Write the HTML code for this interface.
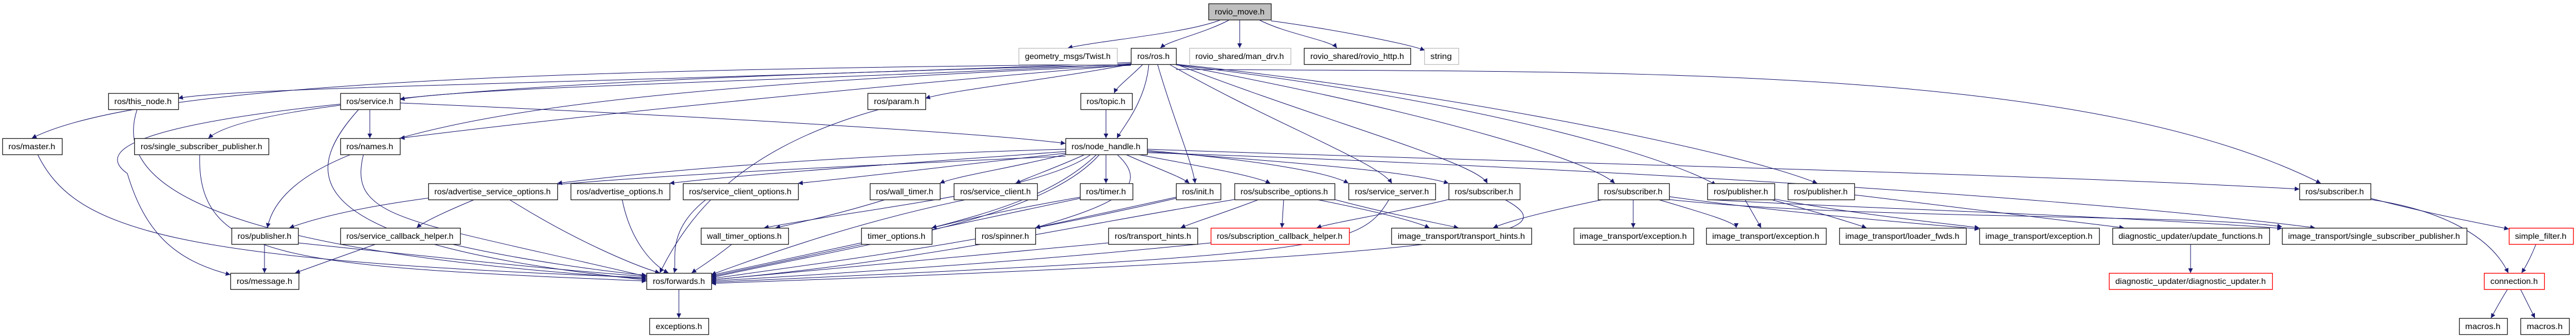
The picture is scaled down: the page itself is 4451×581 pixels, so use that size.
<!DOCTYPE html>
<html><head><meta charset="utf-8"><style>
html,body{margin:0;padding:0;background:#fff;}
svg{display:block;}
text{font-family:"Liberation Sans",sans-serif;font-size:14px;fill:#000;}
rect{fill:#fff;stroke:#222;stroke-width:1.3;}
.g{stroke:#bfbfbf;}
.r{stroke:#ff0000;}
.e path{fill:none;stroke:#191970;stroke-width:1;}
</style></head><body>
<svg width="4451" height="581" viewBox="0 0 4451 581" xmlns="http://www.w3.org/2000/svg">
<defs><marker id="a" viewBox="0 0 10 10" refX="10" refY="5" markerWidth="10" markerHeight="8" markerUnits="userSpaceOnUse" orient="auto"><path d="M0,0 L10,5 L0,10z" fill="#191970"/></marker></defs>
<g class="e">
<path marker-end="url(#a)" d="M2110 34 C2050 58,1900 70,1845 83"/>
<path marker-end="url(#a)" d="M2125 34 C2080 58,2020 70,2005 83"/>
<path marker-end="url(#a)" d="M2142 34 L2142 83"/>
<path marker-end="url(#a)" d="M2175 34 C2220 58,2300 70,2310 83"/>
<path marker-end="url(#a)" d="M2196 36 C2300 50,2430 75,2462 87"/>
<path marker-end="url(#a)" d="M1954 111 C1000 120,250 140,55 239"/>
<path marker-end="url(#a)" d="M1954 108 C1200 140,400 150,308 170"/>
<path marker-end="url(#a)" d="M1954 110 C1400 140,800 150,691 172"/>
<path marker-end="url(#a)" d="M1954 111 C1800 140,1650 155,1599 170"/>
<path marker-end="url(#a)" d="M1975 111 C1950 136,1930 150,1925 161"/>
<path marker-end="url(#a)" d="M1985 111 C1980 175,1940 220,1930 239"/>
<path marker-end="url(#a)" d="M1954 112 C1200 130,450 160,360 239"/>
<path marker-end="url(#a)" d="M1954 112 C1500 150,1000 200,691 239"/>
<path marker-end="url(#a)" d="M1954 113 C1100 150,500 200,462 394"/>
<path marker-end="url(#a)" d="M2000 111 C2030 214,2060 280,2065 317"/>
<path marker-end="url(#a)" d="M2020 111 C2200 214,2380 280,2405 317"/>
<path marker-end="url(#a)" d="M2032 111 C2300 214,2550 280,2570 317"/>
<path marker-end="url(#a)" d="M2032 112 C2500 200,2750 280,2790 317"/>
<path marker-end="url(#a)" d="M2032 112 C2600 180,2900 280,2965 320"/>
<path marker-end="url(#a)" d="M2032 111 C2500 160,3000 260,3140 317"/>
<path marker-end="url(#a)" d="M2032 120 C2800 125,3600 110,4010 317"/>
<path marker-end="url(#a)" d="M639 189 L639 239"/>
<path marker-end="url(#a)" d="M691 178 C1200 200,1700 230,1841 248"/>
<path marker-end="url(#a)" d="M620 189 C520 300,500 420,1117 484"/>
<path marker-end="url(#a)" d="M588 180 C300 210,150 250,220 300 C250 400,300 450,398 475"/>
<path marker-end="url(#a)" d="M237 189 C200 300,300 430,1117 482"/>
<path marker-end="url(#a)" d="M65 267 C130 400,300 450,1117 480"/>
<path marker-end="url(#a)" d="M345 267 C340 450,500 460,1117 486"/>
<path marker-end="url(#a)" d="M628 267 C600 380,700 380,1117 478"/>
<path marker-end="url(#a)" d="M1520 189 C1300 250,1200 350,1140 472"/>
<path marker-end="url(#a)" d="M1911 189 L1911 239"/>
<path marker-end="url(#a)" d="M1841 258 C1400 270,1100 300,963 317"/>
<path marker-end="url(#a)" d="M1841 262 C1600 280,1300 300,1157 317"/>
<path marker-end="url(#a)" d="M1841 265 C1700 280,1500 305,1379 317"/>
<path marker-end="url(#a)" d="M1841 267 C1750 290,1650 305,1624 317"/>
<path marker-end="url(#a)" d="M1875 267 C1820 292,1780 305,1755 317"/>
<path marker-end="url(#a)" d="M1911 267 L1911 317"/>
<path marker-end="url(#a)" d="M1945 267 C2000 292,2040 305,2055 317"/>
<path marker-end="url(#a)" d="M1965 267 C2100 292,2170 305,2195 317"/>
<path marker-end="url(#a)" d="M1982 260 C2200 280,2300 300,2330 317"/>
<path marker-end="url(#a)" d="M1982 262 C2300 285,2450 300,2503 317"/>
<path marker-end="url(#a)" d="M1982 258 C2600 280,3500 300,3973 327"/>
<path marker-end="url(#a)" d="M1841 270 C1200 300,700 320,500 394"/>
<path marker-end="url(#a)" d="M1900 267 C1800 380,1500 420,1229 480"/>
<path marker-end="url(#a)" d="M1885 267 C1800 330,1500 360,1320 394"/>
<path marker-end="url(#a)" d="M1895 267 C1820 340,1700 370,1610 394"/>
<path marker-end="url(#a)" d="M1930 267 C2000 330,1900 360,1789 394"/>
<path marker-end="url(#a)" d="M820 345 C760 370,730 385,720 394"/>
<path marker-end="url(#a)" d="M880 345 C1000 420,1100 460,1140 472"/>
<path marker-end="url(#a)" d="M1075 345 C1090 420,1130 460,1155 472"/>
<path marker-end="url(#a)" d="M1220 345 C1150 400,1170 450,1165 472"/>
<path marker-end="url(#a)" d="M1530 345 C1450 370,1380 385,1340 394"/>
<path marker-end="url(#a)" d="M1670 345 C1500 380,1350 430,1229 475"/>
<path marker-end="url(#a)" d="M1866 341 C1700 370,1650 385,1610 394"/>
<path marker-end="url(#a)" d="M1866 343 C1600 400,1400 440,1229 478"/>
<path marker-end="url(#a)" d="M2032 341 C1900 370,1830 385,1789 394"/>
<path marker-end="url(#a)" d="M2032 343 C1700 420,1450 450,1229 482"/>
<path marker-end="url(#a)" d="M2175 345 C2110 370,2060 385,2040 394"/>
<path marker-end="url(#a)" d="M2218 345 L2215 394"/>
<path marker-end="url(#a)" d="M2133 345 C1800 400,1600 450,1229 484"/>
<path marker-end="url(#a)" d="M2275 345 C2400 370,2450 385,2470 394"/>
<path marker-end="url(#a)" d="M2400 345 C2350 430,2300 440,1229 488"/>
<path marker-end="url(#a)" d="M2503 345 C2400 370,2300 385,2275 394"/>
<path marker-end="url(#a)" d="M2600 345 C2700 400,2650 440,1229 490"/>
<path marker-end="url(#a)" d="M2770 345 C2650 370,2600 385,2580 394"/>
<path marker-end="url(#a)" d="M2822 345 L2822 394"/>
<path marker-end="url(#a)" d="M2865 345 C2950 370,3000 385,3000 394"/>
<path marker-end="url(#a)" d="M2884 340 C3100 370,3300 385,3420 396"/>
<path marker-end="url(#a)" d="M2884 345 C3200 380,3800 370,3943 392"/>
<path marker-end="url(#a)" d="M3015 345 L3043 394"/>
<path marker-end="url(#a)" d="M3060 345 C3150 370,3200 385,3225 394"/>
<path marker-end="url(#a)" d="M3060 343 C3200 370,3350 385,3420 394"/>
<path marker-end="url(#a)" d="M2950 345 C3200 360,3600 370,3943 395"/>
<path marker-end="url(#a)" d="M3204 337 C3400 360,3600 385,3670 394"/>
<path marker-end="url(#a)" d="M2306 345 C2400 370,2480 385,2520 394"/>
<path marker-end="url(#a)" d="M1982 264 C2500 280,3500 330,4000 394"/>
<path marker-end="url(#a)" d="M457 422 L457 472"/>
<path marker-end="url(#a)" d="M515 420 C800 450,1000 470,1117 478"/>
<path marker-end="url(#a)" d="M650 422 C570 450,530 465,510 472"/>
<path marker-end="url(#a)" d="M780 422 C900 450,1050 470,1117 476"/>
<path marker-end="url(#a)" d="M1265 422 C1230 450,1205 465,1195 472"/>
<path marker-end="url(#a)" d="M1488 420 C1350 450,1280 465,1229 476"/>
<path marker-end="url(#a)" d="M1915 420 C1600 450,1400 470,1229 484"/>
<path marker-end="url(#a)" d="M2092 420 C1800 450,1500 470,1229 486"/>
<path marker-end="url(#a)" d="M1173 500 L1173 550"/>
<path marker-end="url(#a)" d="M3785 422 L3785 472"/>
<path marker-end="url(#a)" d="M4096 345 C4200 360,4300 400,4334 472"/>
<path marker-end="url(#a)" d="M4096 343 C4200 370,4280 385,4335 396"/>
<path marker-end="url(#a)" d="M4382 422 C4375 440,4365 460,4357 472"/>
<path marker-end="url(#a)" d="M4333 500 C4320 520,4310 540,4304 550"/>
<path marker-end="url(#a)" d="M4355 500 C4365 520,4375 540,4380 550"/>
</g>
<g>
<rect x="2088.5" y="6.5" width="108" height="28" style="fill:#bfbfbf"/><text x="2142" y="25" text-anchor="middle" textLength="86" lengthAdjust="spacingAndGlyphs">rovio_move.h</text>
<rect class="g" x="1760.5" y="83.5" width="170" height="28"/><text x="1845" y="102" text-anchor="middle" textLength="148" lengthAdjust="spacingAndGlyphs">geometry_msgs/Twist.h</text>
<rect x="1954.5" y="83.5" width="78" height="28"/><text x="1993" y="102" text-anchor="middle" textLength="56" lengthAdjust="spacingAndGlyphs">ros/ros.h</text>
<rect class="g" x="2055.5" y="83.5" width="175" height="28"/><text x="2142" y="102" text-anchor="middle" textLength="153" lengthAdjust="spacingAndGlyphs">rovio_shared/man_drv.h</text>
<rect x="2253.5" y="83.5" width="184" height="28"/><text x="2345" y="102" text-anchor="middle" textLength="162" lengthAdjust="spacingAndGlyphs">rovio_shared/rovio_http.h</text>
<rect class="g" x="2461.5" y="83.5" width="59" height="28"/><text x="2490" y="102" text-anchor="middle" textLength="37" lengthAdjust="spacingAndGlyphs">string</text>
<rect x="187.5" y="161.5" width="121" height="28"/><text x="247" y="180" text-anchor="middle" textLength="99" lengthAdjust="spacingAndGlyphs">ros/this_node.h</text>
<rect x="588.5" y="161.5" width="103" height="28"/><text x="639" y="180" text-anchor="middle" textLength="81" lengthAdjust="spacingAndGlyphs">ros/service.h</text>
<rect x="1499.5" y="161.5" width="100" height="28"/><text x="1549" y="180" text-anchor="middle" textLength="78" lengthAdjust="spacingAndGlyphs">ros/param.h</text>
<rect x="1867.5" y="161.5" width="89" height="28"/><text x="1911" y="180" text-anchor="middle" textLength="67" lengthAdjust="spacingAndGlyphs">ros/topic.h</text>
<rect x="4.5" y="239.5" width="103" height="28"/><text x="55" y="258" text-anchor="middle" textLength="81" lengthAdjust="spacingAndGlyphs">ros/master.h</text>
<rect x="232.5" y="239.5" width="232" height="28"/><text x="348" y="258" text-anchor="middle" textLength="210" lengthAdjust="spacingAndGlyphs">ros/single_subscriber_publisher.h</text>
<rect x="588.5" y="239.5" width="103" height="28"/><text x="639" y="258" text-anchor="middle" textLength="81" lengthAdjust="spacingAndGlyphs">ros/names.h</text>
<rect x="1841.5" y="239.5" width="141" height="28"/><text x="1911" y="258" text-anchor="middle" textLength="119" lengthAdjust="spacingAndGlyphs">ros/node_handle.h</text>
<rect x="740.5" y="317.5" width="223" height="28"/><text x="851" y="336" text-anchor="middle" textLength="201" lengthAdjust="spacingAndGlyphs">ros/advertise_service_options.h</text>
<rect x="986.5" y="317.5" width="171" height="28"/><text x="1071" y="336" text-anchor="middle" textLength="149" lengthAdjust="spacingAndGlyphs">ros/advertise_options.h</text>
<rect x="1180.5" y="317.5" width="199" height="28"/><text x="1279" y="336" text-anchor="middle" textLength="177" lengthAdjust="spacingAndGlyphs">ros/service_client_options.h</text>
<rect x="1503.5" y="317.5" width="121" height="28"/><text x="1563" y="336" text-anchor="middle" textLength="99" lengthAdjust="spacingAndGlyphs">ros/wall_timer.h</text>
<rect x="1648.5" y="317.5" width="144" height="28"/><text x="1720" y="336" text-anchor="middle" textLength="122" lengthAdjust="spacingAndGlyphs">ros/service_client.h</text>
<rect x="1866.5" y="317.5" width="91" height="28"/><text x="1911" y="336" text-anchor="middle" textLength="69" lengthAdjust="spacingAndGlyphs">ros/timer.h</text>
<rect x="2032.5" y="317.5" width="77" height="28"/><text x="2070" y="336" text-anchor="middle" textLength="55" lengthAdjust="spacingAndGlyphs">ros/init.h</text>
<rect x="2133.5" y="317.5" width="173" height="28"/><text x="2219" y="336" text-anchor="middle" textLength="151" lengthAdjust="spacingAndGlyphs">ros/subscribe_options.h</text>
<rect x="2330.5" y="317.5" width="150" height="28"/><text x="2405" y="336" text-anchor="middle" textLength="128" lengthAdjust="spacingAndGlyphs">ros/service_server.h</text>
<rect x="2503.5" y="317.5" width="123" height="28"/><text x="2564" y="336" text-anchor="middle" textLength="101" lengthAdjust="spacingAndGlyphs">ros/subscriber.h</text>
<rect x="2761.5" y="317.5" width="123" height="28"/><text x="2822" y="336" text-anchor="middle" textLength="101" lengthAdjust="spacingAndGlyphs">ros/subscriber.h</text>
<rect x="2950.5" y="317.5" width="116" height="28"/><text x="3008" y="336" text-anchor="middle" textLength="94" lengthAdjust="spacingAndGlyphs">ros/publisher.h</text>
<rect x="3089.5" y="317.5" width="115" height="28"/><text x="3146" y="336" text-anchor="middle" textLength="93" lengthAdjust="spacingAndGlyphs">ros/publisher.h</text>
<rect x="3973.5" y="317.5" width="123" height="28"/><text x="4034" y="336" text-anchor="middle" textLength="101" lengthAdjust="spacingAndGlyphs">ros/subscriber.h</text>
<rect x="400.5" y="394.5" width="115" height="28"/><text x="457" y="413" text-anchor="middle" textLength="93" lengthAdjust="spacingAndGlyphs">ros/publisher.h</text>
<rect x="588.5" y="394.5" width="207" height="28"/><text x="691" y="413" text-anchor="middle" textLength="185" lengthAdjust="spacingAndGlyphs">ros/service_callback_helper.h</text>
<rect x="1211.5" y="394.5" width="151" height="28"/><text x="1286" y="413" text-anchor="middle" textLength="129" lengthAdjust="spacingAndGlyphs">wall_timer_options.h</text>
<rect x="1488.5" y="394.5" width="122" height="28"/><text x="1549" y="413" text-anchor="middle" textLength="100" lengthAdjust="spacingAndGlyphs">timer_options.h</text>
<rect x="1685.5" y="394.5" width="104" height="28"/><text x="1737" y="413" text-anchor="middle" textLength="82" lengthAdjust="spacingAndGlyphs">ros/spinner.h</text>
<rect x="1915.5" y="394.5" width="154" height="28"/><text x="1992" y="413" text-anchor="middle" textLength="132" lengthAdjust="spacingAndGlyphs">ros/transport_hints.h</text>
<rect class="r" x="2092.5" y="394.5" width="239" height="28"/><text x="2211" y="413" text-anchor="middle" textLength="217" lengthAdjust="spacingAndGlyphs">ros/subscription_callback_helper.h</text>
<rect x="2404.5" y="394.5" width="242" height="28"/><text x="2525" y="413" text-anchor="middle" textLength="220" lengthAdjust="spacingAndGlyphs">image_transport/transport_hints.h</text>
<rect x="2719.5" y="394.5" width="207" height="28"/><text x="2822" y="413" text-anchor="middle" textLength="185" lengthAdjust="spacingAndGlyphs">image_transport/exception.h</text>
<rect x="2948.5" y="394.5" width="207" height="28"/><text x="3051" y="413" text-anchor="middle" textLength="185" lengthAdjust="spacingAndGlyphs">image_transport/exception.h</text>
<rect x="3178.5" y="394.5" width="219" height="28"/><text x="3287" y="413" text-anchor="middle" textLength="197" lengthAdjust="spacingAndGlyphs">image_transport/loader_fwds.h</text>
<rect x="3420.5" y="394.5" width="207" height="28"/><text x="3523" y="413" text-anchor="middle" textLength="185" lengthAdjust="spacingAndGlyphs">image_transport/exception.h</text>
<rect x="3650.5" y="394.5" width="271" height="28"/><text x="3785" y="413" text-anchor="middle" textLength="249" lengthAdjust="spacingAndGlyphs">diagnostic_updater/update_functions.h</text>
<rect x="3943.5" y="394.5" width="319" height="28"/><text x="4102" y="413" text-anchor="middle" textLength="297" lengthAdjust="spacingAndGlyphs">image_transport/single_subscriber_publisher.h</text>
<rect class="r" x="4335.5" y="394.5" width="111" height="28"/><text x="4390" y="413" text-anchor="middle" textLength="89" lengthAdjust="spacingAndGlyphs">simple_filter.h</text>
<rect x="398.5" y="472.5" width="118" height="28"/><text x="457" y="491" text-anchor="middle" textLength="96" lengthAdjust="spacingAndGlyphs">ros/message.h</text>
<rect x="1117.5" y="472.5" width="112" height="28"/><text x="1173" y="491" text-anchor="middle" textLength="90" lengthAdjust="spacingAndGlyphs">ros/forwards.h</text>
<rect class="r" x="3644.5" y="472.5" width="282" height="28"/><text x="3785" y="491" text-anchor="middle" textLength="260" lengthAdjust="spacingAndGlyphs">diagnostic_updater/diagnostic_updater.h</text>
<rect class="r" x="4292.5" y="472.5" width="104" height="28"/><text x="4344" y="491" text-anchor="middle" textLength="82" lengthAdjust="spacingAndGlyphs">connection.h</text>
<rect x="1122.5" y="550.5" width="102" height="28"/><text x="1173" y="569" text-anchor="middle" textLength="80" lengthAdjust="spacingAndGlyphs">exceptions.h</text>
<rect x="4249.5" y="550.5" width="83" height="28"/><text x="4290" y="569" text-anchor="middle" textLength="61" lengthAdjust="spacingAndGlyphs">macros.h</text>
<rect x="4355.5" y="550.5" width="84" height="28"/><text x="4397" y="569" text-anchor="middle" textLength="62" lengthAdjust="spacingAndGlyphs">macros.h</text>
</g>
</svg>
</body></html>
